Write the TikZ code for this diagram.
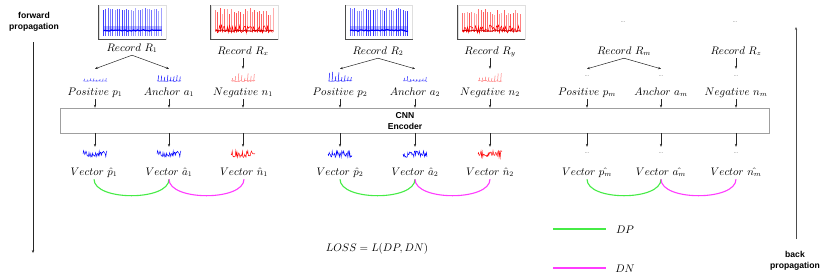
\documentclass[tikz,border=0pt]{standalone}
\usepackage{fontspec}
\newfontfamily\helv{Liberation Sans}
\usetikzlibrary{arrows.meta,calc}
\definecolor{dpgreen}{RGB}{70,235,70}
\definecolor{dnmag}{RGB}{255,60,255}
\tikzset{
  arr/.style={-{Stealth[length=3pt,width=2.4pt]}, line width=0.5pt, black!85},
  lbl/.style={font=\fontsize{10.5}{12}\selectfont, inner sep=0pt, text depth=4pt, anchor=base},
  side/.style={font=\helv\bfseries\fontsize{8.6}{11}\selectfont, align=center, inner sep=0pt},
  recframe/.style={draw=gray!25, line width=0.5pt, minimum width=67pt, minimum height=34pt, inner sep=0pt},
  img/.style={minimum width=26pt, minimum height=14pt, inner sep=0pt},
  vimg/.style={minimum width=26pt, minimum height=12pt, inner sep=0pt},
  dots/.style={font=\scriptsize, text=black!60},
  dp/.style={line width=1.1pt, draw=dpgreen},
  dn/.style={line width=1.1pt, draw=dnmag},
  enc/.style={draw=gray!75, line width=0.6pt, minimum width=709pt, minimum height=25pt, inner sep=0pt}
}
% blue record picture
\newcommand\recblue[3]{%
  \node[recframe] (#1) at (#2) {};
  \draw[gray!60!black, line width=0.7pt] (#1.north west) -- (#1.south west) -- (#1.south east);
  \begin{scope}[shift={(#1.center)}]
    \pgfmathsetseed{#3}
    \fill[blue!25] (-29,4) rectangle (29,9);
    \foreach \i in {0,...,25}{
      \pgfmathsetmacro\ytop{-14+3*rnd}
      \pgfmathsetmacro\op{0.3+0.5*rnd}
      \draw[blue, opacity=\op, line width=0.7pt] ({-29+\i*2.3},14) -- ({-29+\i*2.3},\ytop);
    }
    \draw[blue, line width=1.2pt] (-29,8.5) \foreach \j in {1,...,29}{ -- ({-29+\j*2},{8.5+1.6*(rnd-0.5)}) };
  \end{scope}}
% red record picture
\newcommand\recred[3]{%
  \node[recframe] (#1) at (#2) {};
  \draw[gray!60!black, line width=0.7pt] (#1.north west) -- (#1.south west) -- (#1.south east);
  \begin{scope}[shift={(#1.center)}]
    \pgfmathsetseed{#3}
    \foreach \i in {0,...,25}{
      \pgfmathsetmacro\ytop{-14+7*rnd}
      \pgfmathsetmacro\op{0.3+0.4*rnd}
      \draw[red, opacity=\op, line width=0.7pt] ({-29+\i*2.3},10) -- ({-29+\i*2.3},\ytop);
    }
    \draw[red, line width=0.5pt] (-29,8) \foreach \j in {1,...,57}{ -- ({-29+\j},{3+8*rnd}) };
    \draw[red!80!black, line width=0.9pt] (-29,8.5) \foreach \j in {1,...,29}{ -- ({-29+\j*2},{8.5+1.5*(rnd-0.5)}) };
  \end{scope}}
% small signal: name, position, colour, seed, spike amplitude, base noise
\newcommand\sigimg[6]{%
  \node[img] (#1) at (#2) {};
  \begin{scope}[shift={(#1.center)}]
    \pgfmathsetseed{#4}
    \foreach \i in {0,...,7}{
      \pgfmathsetmacro\hh{#5*(0.35+0.65*rnd)}
      \draw[#3, line width=0.5pt] ({-11+\i*3.1},5) -- ({-11+\i*3.1+0.6},{5-\hh});
    }
    \draw[#3, line width=0.4pt] (-12,5) \foreach \j in {1,...,24}{ -- ({-12+\j},{5+#6*(rnd-0.5)}) };
  \end{scope}}
% feature vector squiggle
\newcommand\vcol{blue}
\newcommand\vecimg[3]{%
  \node[vimg] (#1) at (#2) {};
  \begin{scope}[shift={(#1.center)}]
    \pgfmathsetseed{#3}
    \draw[\vcol, line width=0.45pt] (-12,1) \foreach \j in {1,...,40}{ -- ({-12+\j*0.6},{1+7*(rnd-0.5)}) };
  \end{scope}}

\begin{document}
\begin{tikzpicture}[x=1pt,y=-1pt]
\useasboundingbox (0,0) rectangle (830,277);

% side arrows
\node[side] (fwd) at (34,22) {forward\\propagation};
\coordinate (fwdstart) at (33,42);
\coordinate (fwdend) at (33,253);
\draw[arr] (fwdstart) -- (fwdend);
\node[side] (bwd) at (795,261) {back\\propagation};
\coordinate (bwdstart) at (796,239);
\coordinate (bwdend) at (796,27);
\draw[arr, black!70] (bwdstart) -- (bwdend);

% record pictures
\recblue{imgR1}{132.5,22}{11}
\recred{imgRx}{244.5,22}{12}
\recblue{imgR2}{379,22}{13}
\recred{imgRy}{491.5,22}{14}
\node[dots] (imgRm) at (623,22) {\ldots};
\node[dots] (imgRz) at (735,22) {\ldots};

% record labels
\node[lbl] (R1) at (132,51) {$Record\ R_1$};
\node[lbl] (Rx) at (243,54) {$Record\ R_x$};
\node[lbl] (R2) at (378,54) {$Record\ R_2$};
\node[lbl] (Ry) at (490,54) {$Record\ R_y$};
\node[lbl] (Rm) at (624,54) {$Record\ R_m$};
\node[lbl] (Rz) at (736,54) {$Record\ R_z$};

% sample signals
\sigimg{ip1}{95,76}{blue!70}{21}{3}{0.6}
\sigimg{ia1}{169,76}{blue}{22}{10}{0.8}
\sigimg{in1}{243,76}{red!55}{23}{8}{1.5}
\sigimg{ip2}{340,76}{blue}{24}{10}{0.8}
\sigimg{ia2}{415,76}{blue!80}{25}{5}{0.8}
\sigimg{in2}{490,76}{red!55}{26}{8}{1.5}
\node[img,dots] (ipm) at (587,76) {\ldots};
\node[img,dots] (iam) at (661,76) {\ldots};
\node[img,dots] (inm) at (736,76) {\ldots};

\foreach \r/\p/\a in {R1/ip1/ia1, R2/ip2/ia2, Rm/ipm/iam}{
  \draw[arr] (\r.south) -- (\p.north);
  \draw[arr] (\r.south) -- (\a.north);
}
\draw[arr] (Rx.south) -- (in1.north);
\draw[arr] (Ry.south) -- (in2.north);
\draw[arr] (Rz.south) -- (inm.north);

% sample labels
\node[lbl] (p1) at (95,95) {$Positive\ p_1$};
\node[lbl] (a1) at (169,95) {$Anchor\ a_1$};
\node[lbl] (n1) at (243,95) {$Negative\ n_1$};
\node[lbl] (p2) at (340,95) {$Positive\ p_2$};
\node[lbl] (a2) at (415,95) {$Anchor\ a_2$};
\node[lbl] (n2) at (490,95) {$Negative\ n_2$};
\node[lbl] (pm) at (587,95) {$Positive\ p_m$};
\node[lbl] (am) at (661,95) {$Anchor\ a_m$};
\node[lbl] (nm) at (736,95) {$Negative\ n_m$};

% encoder
\node[enc] (enc) at (414.5,120.5) {};
\node[side] (enctext) at (405,121.5) {CNN\\Encoder};
\foreach \s in {p1,a1,n1,p2,a2,n2,pm,am,nm}{
  \draw[arr] (\s.south) -- (\s.south |- enc.north);
}

% vectors
\vecimg{vp1}{95,153}{31}
\vecimg{va1}{169,153}{31}
\renewcommand\vcol{red}
\vecimg{vn1}{243,153}{33}
\renewcommand\vcol{blue}
\vecimg{vp2}{340,153}{34}
\vecimg{va2}{415,153}{35}
\renewcommand\vcol{red}
\vecimg{vn2}{490,153}{36}
\node[vimg,dots] (vpm) at (587,153) {\ldots};
\node[vimg,dots] (vam) at (661,153) {\ldots};
\node[vimg,dots] (vnm) at (736,153) {\ldots};
\foreach \v in {vp1,va1,vn1,vp2,va2,vn2,vpm,vam,vnm}{
  \draw[arr] (\v.north |- enc.south) -- (\v.north);
}

\node[lbl] (lp1) at (94,175) {$Vector\ \hat{p}_1$};
\node[lbl] (la1) at (169,175) {$Vector\ \hat{a}_1$};
\node[lbl] (ln1) at (244,175) {$Vector\ \hat{n}_1$};
\node[lbl] (lp2) at (340,175) {$Vector\ \hat{p}_2$};
\node[lbl] (la2) at (415,175) {$Vector\ \hat{a}_2$};
\node[lbl] (ln2) at (490,175) {$Vector\ \hat{n}_2$};
\node[lbl] (lpm) at (587,175) {$Vector\ \hat{p_m}$};
\node[lbl] (lam) at (661,175) {$Vector\ \hat{a_m}$};
\node[lbl] (lnm) at (736,175) {$Vector\ \hat{n_m}$};

% distance arcs
\foreach \p/\a/\n in {lp1/la1/ln1, lp2/la2/ln2, lpm/lam/lnm}{
  \draw[dp] (\p.south) .. controls +(0,22) and +(0,22) .. (\a.south);
  \draw[dn] (\a.south) .. controls +(0,22) and +(0,22) .. (\n.south);
}

% loss
\node[lbl] (loss) at (377,251) {$LOSS = L(DP, DN)$};

% legend
\coordinate (lgA) at (553,229);
\coordinate (lgB) at (606,229);
\draw[dp] (lgA) -- (lgB);
\node[lbl] (dplbl) at (625,233) {$DP$};
\coordinate (lgC) at (553,268);
\coordinate (lgD) at (606,268);
\draw[dn] (lgC) -- (lgD);
\node[lbl] (dnlbl) at (625,272) {$DN$};
\end{tikzpicture}
\end{document}
